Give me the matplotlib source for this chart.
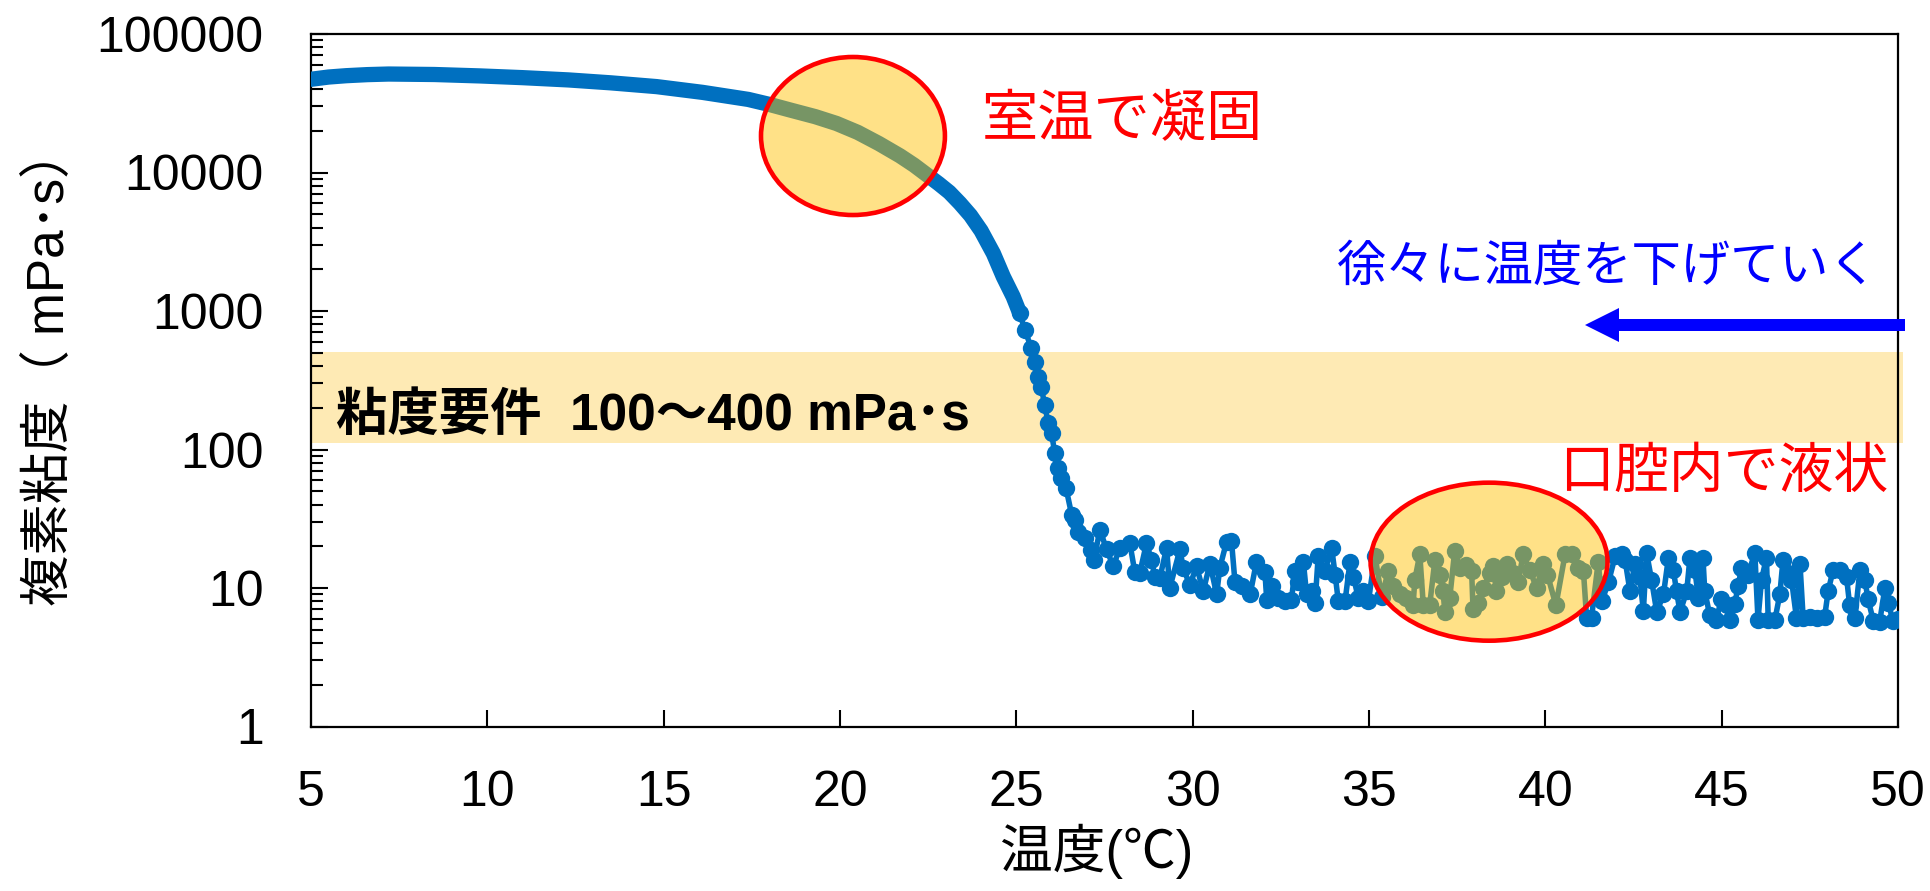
import matplotlib
matplotlib.use("Agg")
import matplotlib.pyplot as plt
from matplotlib.patches import Ellipse, Polygon
from matplotlib.ticker import LogLocator, NullFormatter

plt.rcParams['font.family'] = ['Liberation Sans', 'Noto Sans CJK JP']

# --- measured complex viscosity while cooling (temperature in degC, viscosity in mPa*s) ---
# gel (solid) branch
temp_solid = [5.0, 5.5, 6.0, 6.6, 7.2, 8.5, 9.8, 11.0, 12.3, 13.5, 14.8, 16.1, 17.4, 18.0,
              18.6, 19.3, 19.9, 20.5, 21.1, 21.7, 22.1, 22.4, 22.8, 23.1, 23.4, 23.7, 24.0,
              24.35, 24.63, 24.91, 25.1]
visc_solid = [47100, 48900, 50000, 50900, 51400, 51000, 49800, 48400, 46600, 44400, 41700,
              37900, 33700, 31000, 28200, 25300, 22600, 19500, 16200, 13200, 11300, 9900,
              8300, 7200, 6000, 4900, 3800, 2600, 1770, 1270, 960]

# melting transition
temp_melt = [25.24, 25.43, 25.53, 25.62, 25.70, 25.81, 25.90, 26.00, 26.09, 26.19,
             26.28, 26.41, 26.57, 26.66, 26.75, 26.94, 27.13, 27.20, 27.37, 27.56]
visc_melt = [729, 537, 430, 336, 284, 209, 155, 131, 94, 73,
             62, 52.5, 33.7, 31, 25.5, 22.9, 18.8, 16, 26.2, 19]

# liquid branch
temp_liquid = [27.75, 27.93, 28.22, 28.36, 28.50, 28.69, 28.83, 28.93, 29.07, 29.26,
               29.35, 29.64, 29.73, 29.92, 30.11, 30.30, 30.49, 30.68, 30.77, 30.96,
               31.10, 31.20, 31.39, 31.63, 31.81, 32.05, 32.10, 32.24, 32.43, 32.62,
               32.80, 32.90, 32.99, 33.14, 33.23, 33.37, 33.47, 33.56, 33.75, 33.94,
               34.04, 34.13, 34.32, 34.46, 34.56, 34.70, 34.84, 34.98, 35.17, 35.36,
               35.55, 35.68, 35.87, 36.06, 36.25, 36.30, 36.44, 36.54, 36.72, 36.87,
               37.01, 37.10, 37.15, 37.29, 37.43, 37.57, 37.76, 37.91, 37.95, 38.09,
               38.24, 38.43, 38.52, 38.61, 38.76, 38.90, 39.09, 39.23, 39.37, 39.56,
               39.75, 39.94, 40.06, 40.30, 40.56, 40.75, 40.94, 41.08, 41.17, 41.31,
               41.50, 41.60, 41.79, 41.98, 42.16, 42.26, 42.40, 42.54, 42.68, 42.78,
               42.87, 43.01, 43.16, 43.35, 43.49, 43.63, 43.72, 43.82, 44.01, 44.10,
               44.24, 44.34, 44.47, 44.52, 44.66, 44.85, 44.99, 45.14, 45.23, 45.37,
               45.47, 45.56, 45.75, 45.94, 46.03, 46.13, 46.27, 46.32, 46.51, 46.65,
               46.74, 46.88, 46.98, 47.12, 47.22, 47.31, 47.50, 47.69, 47.92, 48.02,
               48.16, 48.35, 48.54, 48.63, 48.78, 48.92, 49.06, 49.15, 49.30, 49.48,
               49.63, 49.72, 49.86, 50.00]
visc_liquid = [14.3, 19.5, 21, 13, 12.8, 21, 16, 12, 11.8, 19.5,
               10, 19, 14, 10.5, 14.3, 9.5, 15, 9, 14, 21.5,
               22, 11, 10.3, 9, 15.5, 13, 8.2, 10.3, 8.4, 8,
               8.2, 13.3, 11, 15.3, 9, 9.5, 7.8, 17, 13.3, 19.5,
               12.5, 8, 8, 15.3, 12, 8.4, 9.5, 8, 17, 8.6,
               13.3, 10.3, 9, 8.4, 7.5, 11.5, 17.5, 7.5, 7.5, 16,
               12.5, 9.5, 6.7, 8.5, 18.5, 14, 14.7, 13.3, 7, 7.8,
               10, 12.8, 14.3, 9.5, 12, 15, 12.8, 11, 17.5, 13.5,
               10, 15, 12.5, 7.5, 17.5, 17.5, 14, 13.3, 6.1, 6.1,
               15.5, 8, 11, 17, 17.5, 16, 9.5, 15, 12, 6.8,
               18, 11.5, 6.7, 9, 16.5, 13.5, 9.5, 6.7, 9.5, 16.5,
               13.5, 8.5, 16.5, 9.5, 6.4, 5.9, 8.3, 7.5, 5.9, 7.7,
               10.3, 14, 12.5, 18, 5.9, 11.5, 16.5, 5.9, 5.9, 9,
               16, 12.8, 11.5, 6.1, 15, 6.1, 6.2, 6.1, 6.2, 9.5,
               13.5, 13.5, 12, 7.5, 6.1, 13.5, 11.5, 8.3, 5.8, 5.7,
               10, 7.8, 5.8, 6.0]

# target viscosity window (shaded band)
band_low, band_high = 112, 508

x_ticks = [5, 10, 15, 20, 25, 30, 35, 40, 45, 50]
x_tick_labels = ['5', '10', '15', '20', '25', '30', '35', '40', '45', '50']
y_ticks = [1, 10, 100, 1000, 10000, 100000]
y_tick_labels = ['1', '10', '100', '1000', '10000', '100000']

# the gel branch is so densely sampled that its markers merge into a solid band;
# the remaining points are drawn as individual markers joined by a line
temp_pts = temp_solid[-1:] + temp_melt + temp_liquid
visc_pts = visc_solid[-1:] + visc_melt + visc_liquid

BLUE = '#0070C0'
W, H = 1930, 891
fig = plt.figure(figsize=(W / 100, H / 100), dpi=100)
ax = fig.add_axes([311 / W, 1 - 726.5 / H, (1898 - 311) / W, (726.5 - 34) / H])

ax.set_yscale('log')
ax.set_xlim(5, 50)
ax.set_ylim(1, 100000)

# viscosity requirement band
ax.axhspan(band_low, band_high, xmin=0, xmax=1.003, color='#FEEAB4', lw=0, zorder=1, clip_on=False)

# data
ax.plot(temp_solid, visc_solid, '-', color=BLUE, lw=11, solid_capstyle='round',
        solid_joinstyle='round', zorder=3)
ax.plot(temp_pts, visc_pts, '-o', color=BLUE, lw=4, ms=12.5, mec=BLUE, mew=0, zorder=3)

# axes styling
for sp in ax.spines.values():
    sp.set_linewidth(1.6)
    sp.set_color('black')
ax.set_xticks(x_ticks)
ax.set_xticklabels(x_tick_labels)
ax.set_yticks(y_ticks)
ax.set_yticklabels(y_tick_labels)
ax.yaxis.set_minor_locator(LogLocator(base=10, subs=range(2, 10)))
ax.yaxis.set_minor_formatter(NullFormatter())
ax.tick_params(axis='both', which='major', direction='in', length=12, width=1.5,
               labelsize=36, colors='black')
ax.tick_params(axis='x', which='major', pad=31)
ax.tick_params(axis='y', which='major', pad=34)
ax.tick_params(axis='y', which='minor', direction='in', length=8.6, width=1.5)
ax.tick_params(top=False, right=False, which='both')

ax.set_xlabel('温度(℃)', fontsize=38, va='center')
ax.xaxis.set_label_coords(0.4953, -0.181)
ax.set_ylabel('複素粘度（ mPa･s）', fontsize=37, va='center')
ax.yaxis.set_label_coords(-0.1638, 0.5206)

# highlight ellipses
fill = (1.0, 0.753, 0.0, 0.47)
ax.add_patch(Ellipse((0.3415, 0.8527), 0.1159, 0.2282, transform=ax.transAxes,
                     facecolor=fill, edgecolor='#FF0000', lw=3.3, zorder=4))
ax.add_patch(Ellipse((0.7423, 0.238), 0.1493, 0.2282, transform=ax.transAxes,
                     facecolor=fill, edgecolor='#FF0000', lw=3.3, zorder=4))


def fx(px):
    return px / W


def fy(py):
    return 1 - py / H


# annotations
ax.text(0.0158, 0.448, '粘度要件  100〜400 mPa･s', transform=ax.transAxes,
        fontsize=37, fontweight='bold', ha='left', va='center', color='black', zorder=5)
fig.text(fx(1122), fy(122), '室温で凝固', fontsize=40.5, color='#FF0000',
         ha='center', va='center')
fig.text(fx(1724), fy(474), '口腔内で液状', fontsize=39.5, color='#FF0000',
         ha='center', va='center')
fig.text(fx(1879), fy(268), '徐々に温度を下げていく', fontsize=35.5, color='#0000FF',
         ha='right', va='center')

# cooling-direction arrow
tip_x, tail_x, yc = 1585, 1905, 325
head_len, head_half, shaft_half = 34, 17, 6
arrow_pts = [(tip_x, yc), (tip_x + head_len, yc - head_half), (tip_x + head_len, yc - shaft_half),
             (tail_x, yc - shaft_half), (tail_x, yc + shaft_half), (tip_x + head_len, yc + shaft_half),
             (tip_x + head_len, yc + head_half)]
fig.patches.append(Polygon([(fx(px), fy(py)) for px, py in arrow_pts], closed=True,
                           transform=fig.transFigure, facecolor='#0000FF', edgecolor='none'))

fig.savefig('out.png', dpi=100, facecolor='white')
